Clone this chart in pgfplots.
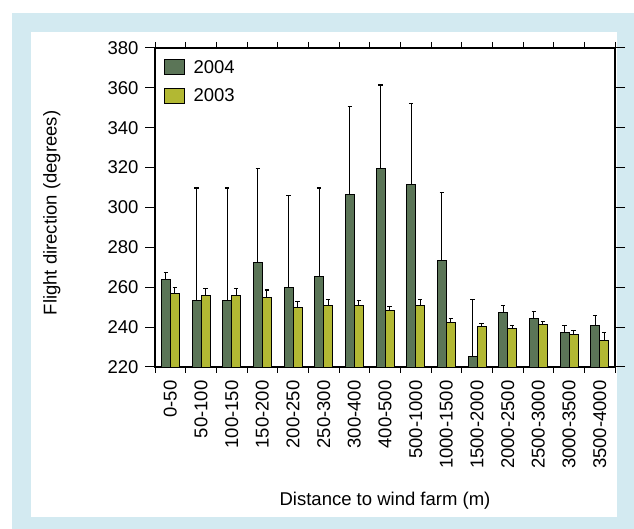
\documentclass[border=0pt]{standalone}
\usepackage{pgfplots}
\pgfplotsset{compat=1.18}
\usepackage{fontspec}
\setmainfont{Liberation Sans}

\definecolor{frameblue}{RGB}{211,234,241}
\definecolor{darkgreen}{RGB}{91,117,87}
\definecolor{lightolive}{RGB}{178,184,51}

\begin{document}
\begin{tikzpicture}[x=1bp,y=1bp]
  % page and light-blue frame
  \path[use as bounding box] (0,0) rectangle (634,529);
  \fill[white] (0,0) rectangle (634,529);
  \fill[frameblue] (12,0) rectangle (634,516);
  \fill[white] (31,12) rectangle (617,497);

  \begin{axis}[
    at={(155bp,162bp)}, anchor=south west,
    scale only axis,
    width=460bp, height=319bp,
    font=\fontsize{18.5bp}{22bp}\selectfont,
    /pgf/number format/assume math mode=true,
    ymin=220, ymax=380,
    ytick={220,240,...,380},
    yticklabel style={xshift=-3bp},
    xmin=-0.5, xmax=14.5,
    xtick={0,...,14},
    xticklabels={0-50,50-100,100-150,150-200,200-250,250-300,300-400,400-500,
                 500-1000,1000-1500,1500-2000,2000-2500,2500-3000,3000-3500,3500-4000},
    xticklabel style={rotate=90, anchor=east},
    x tick style={draw=none},
    extra x ticks={-0.5,0.5,...,14.5},
    extra x tick labels={},
    extra x tick style={x tick style={draw=black, line width=1bp}, major tick length=6bp},
    tick align=outside,
    ytick style={draw=black, line width=1bp},
    major tick length=10bp,
    axis line style={line width=1.2bp},
    ybar=0pt, bar width=9bp,
    xlabel={Distance to wind farm (m)},
    ylabel={Flight direction (degrees)},
    xlabel style={at={(axis description cs:0.5,-0.4357)}, anchor=base},
    ylabel style={at={(axis description cs:-0.2137,0.4828)}, anchor=base},
    legend style={draw=none, fill=none, at={(axis description cs:0.012,0.975)},
                  anchor=north west, row sep=10bp, column sep=7bp,
                  font=\fontsize{18.5bp}{22bp}\selectfont},
    legend cell align=left,
    error bars/y dir=plus, error bars/y explicit,
    error bars/error bar style={black, line width=0.8bp},
    error bars/error mark options={rotate=90, black, line width=1.2bp, mark size=2.2bp},
  ]
    % 2004 series
    \addplot[fill=darkgreen, draw=black, line width=0.9bp,
      legend image code/.code={\draw[fill=darkgreen,draw=black,line width=0.9bp] (0bp,-7.5bp) rectangle (20bp,7.5bp);}]
      coordinates {
      (0,263.8) +- (0,3.5)
      (1,253.4) +- (0,56.4)
      (2,253.4) +- (0,56.4)
      (3,272.5) +- (0,47.0)
      (4,260.1) +- (0,46.0)
      (5,265.3) +- (0,44.5)
      (6,306.6) +- (0,44.1)
      (7,319.5) +- (0,41.9)
      (8,311.6) +- (0,40.6)
      (9,273.5) +- (0,34.1)
      (10,225.4) +- (0,28.6)
      (11,247.4) +- (0,3.6)
      (12,244.4) +- (0,3.5)
      (13,237.2) +- (0,3.5)
      (14,240.7) +- (0,5.2)
    };
    \addlegendentry{2004}
    % 2003 series
    \addplot[fill=lightolive, draw=black, line width=0.9bp,
      legend image code/.code={\draw[fill=lightolive,draw=black,line width=0.9bp] (0bp,-7.5bp) rectangle (20bp,7.5bp);}]
      coordinates {
      (0,257.0) +- (0,2.8)
      (1,256.0) +- (0,3.3)
      (2,256.0) +- (0,3.3)
      (3,255.0) +- (0,3.6)
      (4,250.0) +- (0,2.9)
      (5,251.0) +- (0,3.0)
      (6,251.0) +- (0,2.4)
      (7,248.4) +- (0,2.0)
      (8,251.0) +- (0,3.0)
      (9,242.2) +- (0,2.2)
      (10,240.2) +- (0,1.5)
      (11,239.2) +- (0,1.5)
      (12,241.2) +- (0,1.5)
      (13,236.2) +- (0,2.0)
      (14,233.2) +- (0,4.0)
    };
    \addlegendentry{2003}
  \end{axis}
\end{tikzpicture}
\end{document}
